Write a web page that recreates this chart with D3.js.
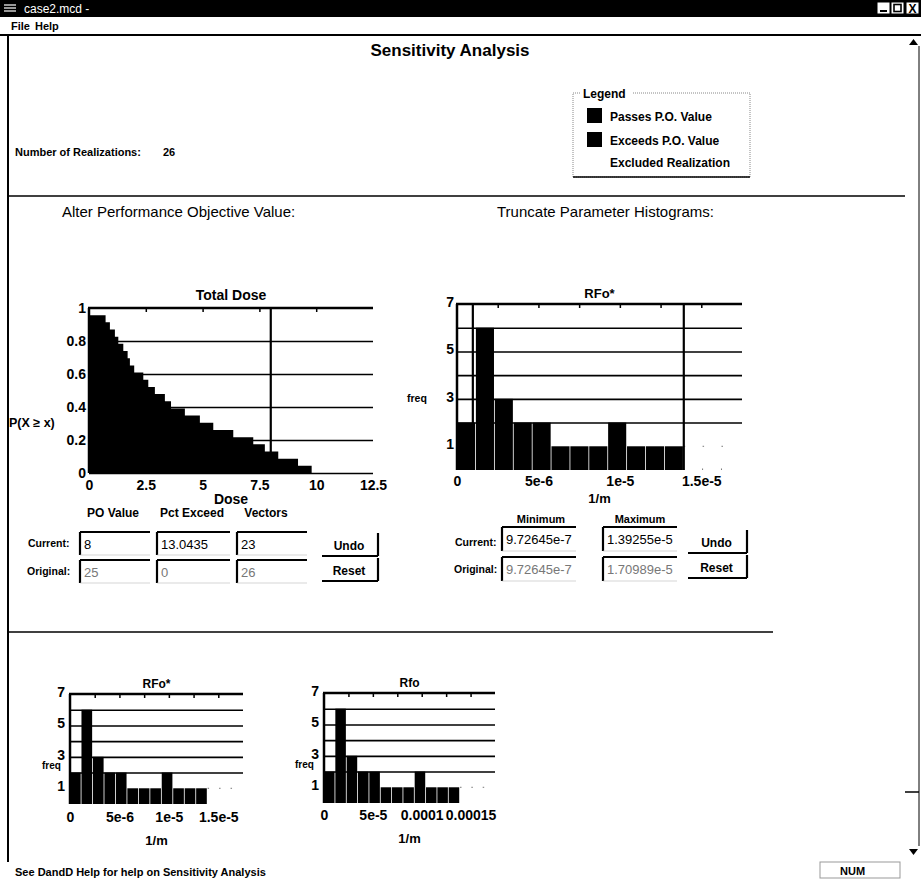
<!DOCTYPE html>
<html>
<head>
<meta charset="utf-8">
<script src="https://cdn.jsdelivr.net/npm/d3@7"></script>
<style>
  body { margin: 0; background: #fff; }
  svg { display: block; font-family: "Liberation Sans", Arial, Helvetica, sans-serif; }
</style>
</head>
<body>
<svg id="win" width="921" height="888"></svg>
<script>
// ---- values ----
const realizations = 26;
// Total Dose of the included realizations (sorted), from the step curve
const doseValues = [0.02, 0.73, 0.92, 1.14, 1.29, 1.51, 1.70, 1.80, 1.99, 2.39, 2.61, 2.90,
                    3.34, 3.61, 4.22, 4.88, 5.47, 6.35, 7.23, 7.74, 8.33, 9.2, 9.8];
const poValue = 8;
const doseTicks = [0, 2.5, 5, 7.5, 10, 12.5];
const doseMinor = [2.5, 5, 7.5, 10];
const probGrid = [0, 0.2, 0.4, 0.6, 0.8];
const probTicks = [0, 0.2, 0.4, 0.6, 0.8, 1];

// RFo* histogram (bin counts), included and excluded realizations
const rfoCounts   = [2, 6, 3, 2, 2, 1, 1, 1, 2, 1, 1, 1, 0, 0, 0];
const rfoExcluded = [0, 0, 0, 0, 0, 0, 0, 0, 0, 0, 0, 0, 1, 1, 1];
const rfoBin = 1.16e-6;
const rfoMin = 9.72645e-7, rfoMax = 1.39255e-5;
const rfoTicks = [0, 5e-6, 1e-5, 1.5e-5];
const rfoTickLabels = ["0", "5e-6", "1e-5", "1.5e-5"];
const rfoMinor = [2.5e-6, 5e-6, 7.5e-6, 1e-5, 1.25e-5, 1.5e-5];
// Rfo histogram
const rfBin = 1.16e-5;
const rfTicks = [0, 5e-5, 1e-4, 1.5e-4];
const rfTickLabels = ["0", "5e-5", "0.0001", "0.00015"];
const rfMinor = [2.5e-5, 5e-5, 7.5e-5, 1e-4, 1.25e-4, 1.5e-4];
const freqTicks = [1, 3, 5, 7];
const freqGrid = [2, 3, 4, 5, 6];

// text box contents
const doseCurrent = ["8", "13.0435", "23"];
const doseOriginal = ["25", "0", "26"];
const rfoCurrent = ["9.72645e-7", "1.39255e-5"];
const rfoOriginal = ["9.72645e-7", "1.70989e-5"];

const svg = d3.select("#win");

function text(x, y, s, size, opts) {
  opts = opts || {};
  return svg.append("text").attr("x", x).attr("y", y).text(s)
    .attr("font-size", size)
    .attr("font-weight", opts.bold ? "bold" : "normal")
    .attr("text-anchor", opts.anchor || "start")
    .attr("fill", opts.fill || "#000");
}
function line(x1, y1, x2, y2, w, col) {
  return svg.append("line").attr("x1", x1).attr("y1", y1).attr("x2", x2).attr("y2", y2)
    .attr("stroke", col || "#000").attr("stroke-width", w || 1);
}

// ---- window frame ----
svg.append("rect").attr("x", 0).attr("y", 0).attr("width", 921).attr("height", 17).attr("fill", "#000");
[5, 8, 11].forEach(yy => line(4, yy, 16, yy, 1.2, "#fff"));
text(24, 13, "case2.mcd -", 12, {fill: "#fff"});
[[877, "min"], [891, "max"], [906, "x"]].forEach(([bx, k]) => {
  svg.append("rect").attr("x", bx).attr("y", 2).attr("width", 13).attr("height", 12)
    .attr("fill", "#fff").attr("stroke", "#000");
  if (k === "min") line(880, 11, 887, 11, 2);
  if (k === "max") svg.append("rect").attr("x", 894).attr("y", 4.5).attr("width", 7).attr("height", 7)
    .attr("fill", "none").attr("stroke", "#000").attr("stroke-width", 1.6);
  if (k === "x") text(912.5, 13, "X", 12, {bold: true, anchor: "middle"});
});
text(11, 30, "File", 11, {bold: true});
text(35, 30, "Help", 11, {bold: true});
line(0, 35, 921, 35, 2);
line(8, 35, 8, 862, 2);
line(919, 46, 919, 846, 1);
svg.append("path").attr("d", "M909,45 L913.5,39 L918,45 Z").attr("fill", "#000");
svg.append("path").attr("d", "M909,849 L913.5,855 L918,849 Z").attr("fill", "#000");
line(905, 792, 919, 792, 1.5);

// ---- header ----
text(450, 56, "Sensitivity Analysis", 17, {bold: true, anchor: "middle"});
text(15, 156, "Number of Realizations:", 11, {bold: true});
text(163, 156, String(realizations), 11, {bold: true});

// legend group box
svg.append("rect").attr("x", 573).attr("y", 93).attr("width", 177).attr("height", 84)
  .attr("fill", "none").attr("stroke", "#888").attr("stroke-dasharray", "1,1");
line(573, 177, 750, 177, 1.5);
svg.append("rect").attr("x", 580).attr("y", 88).attr("width", 52).attr("height", 12).attr("fill", "#fff");
text(583, 98, "Legend", 12, {bold: true});
svg.append("rect").attr("x", 587).attr("y", 108).attr("width", 15).attr("height", 15).attr("fill", "#000");
svg.append("rect").attr("x", 587).attr("y", 132).attr("width", 15).attr("height", 15).attr("fill", "#000");
text(610, 121, "Passes P.O. Value", 12, {bold: true});
text(610, 145, "Exceeds P.O. Value", 12, {bold: true});
text(610, 167, "Excluded Realization", 12, {bold: true});

line(8, 196, 905, 196, 1.5);
text(62, 217, "Alter Performance Objective Value:", 15);
text(497, 217, "Truncate Parameter Histograms:", 15);
line(8, 632, 773, 632, 1.5);

// ---- styling helpers for axes ----
function styleTicks(sel, size) {
  sel.attr("font-size", size).attr("font-weight", "bold")
    .attr("font-family", '"Liberation Sans", Arial, sans-serif');
  sel.selectAll("text").attr("fill", "#000");
  sel.select(".domain").remove();
}

// ---- Total Dose CCDF ----
(function () {
  const left = 89, right = 373, top = 308, bottom = 473;
  const x = d3.scaleLinear().domain([0, 12.5]).range([left, right]);
  const y = d3.scaleLinear().domain([0, 1]).range([bottom, top]);
  const n = doseValues.length;
  const pts = [[0, 1]].concat(doseValues.map((v, i) => [v, (n - 1 - i) / n]));

  svg.append("g").attr("transform", `translate(${left},0)`)
    .call(d3.axisLeft(y).tickValues(probGrid).tickSize(-(right - left)).tickFormat(""))
    .call(a => a.select(".domain").remove())
    .selectAll("line").attr("stroke", "#000").attr("stroke-width", 1.6);

  line(x(poValue), top, x(poValue), bottom, 2.2);

  const area = d3.area().x(d => x(d[0])).y0(y(0)).y1(d => y(d[1])).curve(d3.curveStepAfter);
  svg.append("path").datum(pts).attr("d", area).attr("fill", "#000");

  line(left - 1, top, right, top, 2.5);
  line(left, top, left, bottom, 2.5);
  svg.append("g").attr("transform", `translate(0,${top})`)
    .call(d3.axisBottom(x).tickValues(doseMinor).tickSize(4).tickFormat(""))
    .call(a => a.select(".domain").remove())
    .selectAll("line").attr("stroke", "#000").attr("stroke-width", 1.5);

  svg.append("g").attr("transform", `translate(0,${bottom})`)
    .call(d3.axisBottom(x).tickValues(doseTicks).tickSize(0).tickPadding(7)
      .tickFormat(d3.format("")))
    .call(a => styleTicks(a, 14));
  svg.append("g").attr("transform", `translate(${left},0)`)
    .call(d3.axisLeft(y).tickValues(probTicks).tickSize(0).tickPadding(3)
      .tickFormat(d3.format("")))
    .call(a => styleTicks(a, 14));

  text((left + right) / 2, 300, "Total Dose", 14, {bold: true, anchor: "middle"});
  text((left + right) / 2, 504, "Dose", 14, {bold: true, anchor: "middle"});
  text(9, 427, "P(X \u2265 x)", 12.5, {bold: true});
})();

// ---- histograms ----
function drawHist(o) {
  const x = d3.scaleLinear().domain([0, o.xMax]).range([o.left, o.right]);
  const y = d3.scaleLinear().domain([0, 7]).range([o.bottom, o.top]);
  const bins = o.counts.map((c, i) => ({x0: i * o.bin, x1: (i + 1) * o.bin, n: c, ex: o.excluded[i]}));

  svg.append("g").attr("transform", `translate(${o.left},0)`)
    .call(d3.axisLeft(y).tickValues(freqGrid).tickSize(-(o.right - o.left)).tickFormat(""))
    .call(a => a.select(".domain").remove())
    .selectAll("line").attr("stroke", "#000").attr("stroke-width", 1.6);

  const g = svg.append("g");
  g.selectAll("rect.ex").data(bins.filter(b => b.ex > 0)).join("rect").attr("class", "ex")
    .attr("x", d => x(d.x0)).attr("width", d => x(d.x1) - x(d.x0))
    .attr("y", d => y(d.ex)).attr("height", d => y(0) - y(d.ex))
    .attr("fill", "#fff").attr("stroke", "#777").attr("stroke-dasharray", "1.5,60");
  g.selectAll("rect.bar").data(bins.filter(b => b.n > 0)).join("rect").attr("class", "bar")
    .attr("x", d => x(d.x0)).attr("width", d => x(d.x1) - x(d.x0) - 0.8)
    .attr("y", d => y(d.n)).attr("height", d => y(0) - y(d.n))
    .attr("fill", "#000");

  if (o.trunc) o.trunc.forEach(v => line(x(v), o.top, x(v), o.bottom, 2.2));

  line(o.left - 1, o.top, o.right, o.top, 2.5);
  line(o.left, o.top, o.left, o.bottom, 2.5);
  svg.append("g").attr("transform", `translate(0,${o.top})`)
    .call(d3.axisBottom(x).tickValues(o.minor).tickSize(4).tickFormat(""))
    .call(a => a.select(".domain").remove())
    .selectAll("line").attr("stroke", "#000").attr("stroke-width", 1.5);

  svg.append("g").attr("transform", `translate(0,${o.bottom})`)
    .call(d3.axisBottom(x).tickValues(o.ticks).tickSize(0).tickPadding(o.xPad)
      .tickFormat((d, i) => o.tickLabels[i]))
    .call(a => styleTicks(a, 14));
  svg.append("g").attr("transform", `translate(${o.left},-2)`)
    .call(d3.axisLeft(y).tickValues(freqTicks).tickSize(0).tickPadding(o.yPad)
      .tickFormat(d3.format("d")))
    .call(a => styleTicks(a, 14));

  text((o.left + o.right) / 2, o.top - 6, o.title, o.titleSize, {bold: true, anchor: "middle"});
  text(o.freqX, o.freqY, "freq", o.freqSize, {bold: true});
  text((o.left + o.right) / 2, o.unitY, "1/m", 13, {bold: true, anchor: "middle"});
}

drawHist({left: 457, right: 742, top: 304, bottom: 470, xMax: 1.75e-5, bin: rfoBin,
  counts: rfoCounts, excluded: rfoExcluded, trunc: [rfoMin, rfoMax],
  ticks: rfoTicks, tickLabels: rfoTickLabels, minor: rfoMinor, xPad: 6, yPad: 3,
  title: "RFo*", titleSize: 13, freqX: 407, freqY: 402, freqSize: 10.5, unitY: 503});

drawHist({left: 70, right: 243, top: 694, bottom: 804, xMax: 1.75e-5, bin: rfoBin,
  counts: rfoCounts, excluded: rfoExcluded,
  ticks: rfoTicks, tickLabels: rfoTickLabels, minor: rfoMinor, xPad: 8, yPad: 5,
  title: "RFo*", titleSize: 12, freqX: 42, freqY: 769, freqSize: 10, unitY: 845});

drawHist({left: 324, right: 495, top: 693, bottom: 803, xMax: 1.75e-4, bin: rfBin,
  counts: rfoCounts, excluded: rfoExcluded,
  ticks: rfTicks, tickLabels: rfTickLabels, minor: rfMinor, xPad: 7, yPad: 5,
  title: "Rfo", titleSize: 12, freqX: 295, freqY: 768, freqSize: 10, unitY: 843});

// ---- edit boxes and buttons ----
function editBox(x, y, w, h, val, grey) {
  svg.append("rect").attr("x", x).attr("y", y).attr("width", w).attr("height", h).attr("fill", "#fff");
  line(x, y, x + w, y, 2.2);
  line(x, y, x, y + h, 2.2);
  line(x, y + h, x + w, y + h, 0.6, "#bbb");
  text(x + 4, y + h / 2 + 5, val, 13, {fill: grey ? "#777" : "#000"});
}
function button(x, y, w, h, label) {
  line(x, y + h, x + w, y + h, 2.2);
  line(x + w, y, x + w, y + h, 2.2);
  text(x + w / 2 - 1, y + h / 2 + 5, label, 12, {bold: true, anchor: "middle"});
}

// dose controls
text(113, 517, "PO Value", 12, {bold: true, anchor: "middle"});
text(192, 517, "Pct Exceed", 12, {bold: true, anchor: "middle"});
text(266, 517, "Vectors", 12, {bold: true, anchor: "middle"});
text(28, 547, "Current:", 10.5, {bold: true});
text(27, 575, "Original:", 10.5, {bold: true});
const doseBoxX = [80, 157, 237], doseBoxW = [70, 73, 70];
doseCurrent.forEach((v, i) => editBox(doseBoxX[i], 532, doseBoxW[i], 23, (i === 2 ? "  " : "") + v, false));
doseOriginal.forEach((v, i) => editBox(doseBoxX[i], 560, doseBoxW[i], 23, (i === 2 ? "  " : "") + v, true));
button(322, 533, 56, 23, "Undo");
button(322, 558, 56, 23, "Reset");

// truncation controls
text(541, 523, "Minimum", 11, {bold: true, anchor: "middle"});
text(640, 523, "Maximum", 11, {bold: true, anchor: "middle"});
text(455, 546, "Current:", 10.5, {bold: true});
text(454, 573, "Original:", 10.5, {bold: true});
const rfoBoxX = [502, 603];
rfoCurrent.forEach((v, i) => editBox(rfoBoxX[i], 527, 74, 24, v, false));
rfoOriginal.forEach((v, i) => editBox(rfoBoxX[i], 557, 74, 24, v, true));
button(688, 530, 59, 23, "Undo");
button(688, 555, 59, 23, "Reset");

// ---- status bar ----
text(15, 876, "See DandD Help for help on Sensitivity Analysis", 11, {bold: true});
svg.append("rect").attr("x", 820).attr("y", 862).attr("width", 80).attr("height", 16)
  .attr("fill", "none").attr("stroke", "#999");
text(840, 875, "NUM", 11, {bold: true});
</script>
</body>
</html>
